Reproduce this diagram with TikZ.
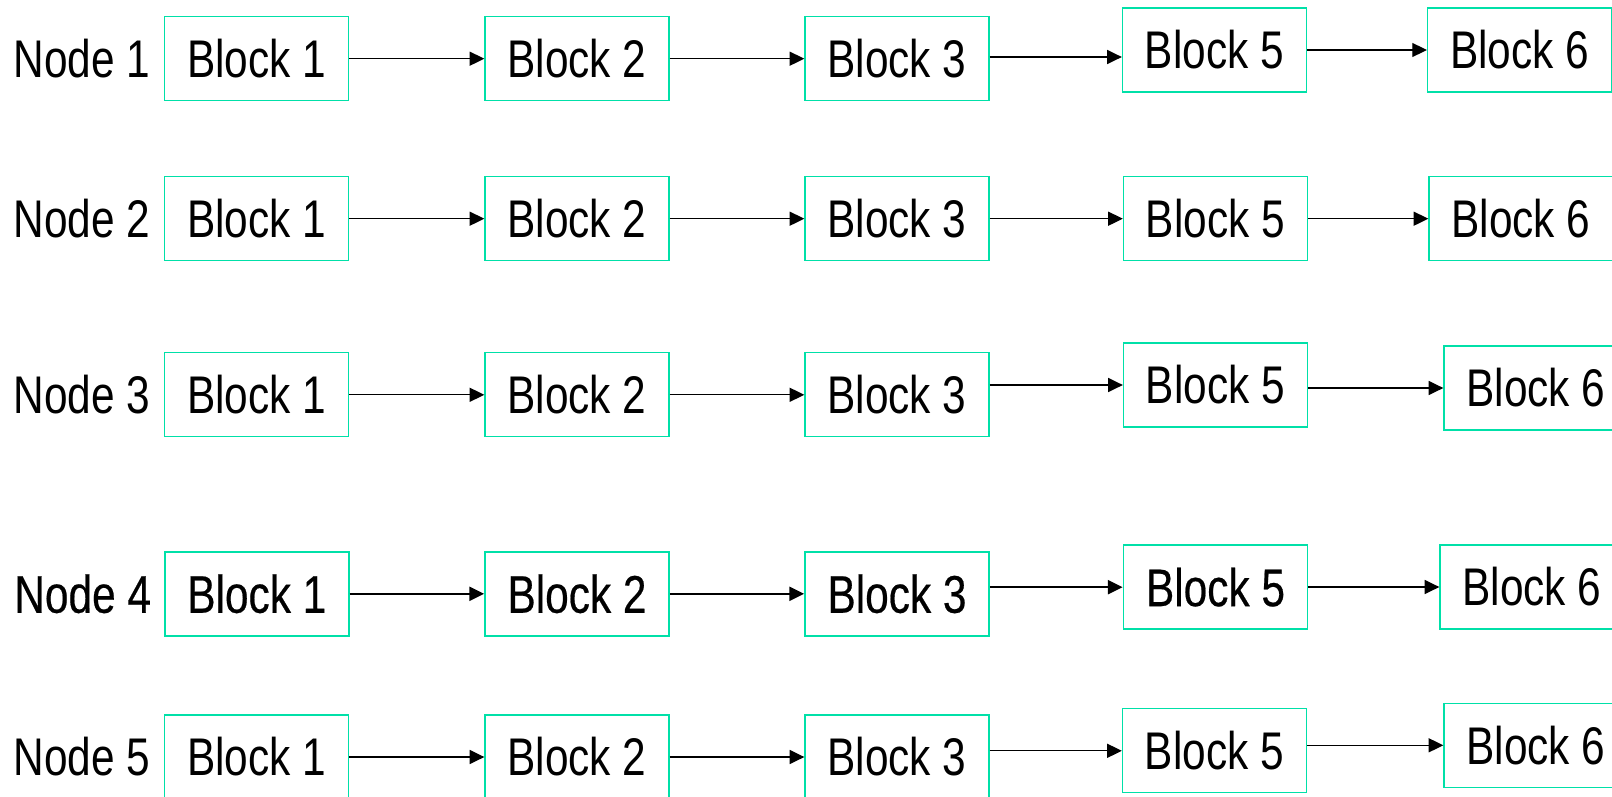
\documentclass[tikz,border=0pt]{standalone}
\usepackage{fontspec}
\setmainfont[FakeStretch=0.8]{Liberation Sans}
\newfontfamily\heavyfont[FakeStretch=0.8,FakeBold=0.4]{Liberation Sans}
\usetikzlibrary{arrows.meta}
\definecolor{blockgreen}{HTML}{00E0A8}

\tikzset{
  blk/.style={draw=blockgreen, line width=1pt, minimum width=138pt, minimum height=63pt,
    inner sep=0pt, font=\fontsize{39.75}{40}\selectfont},
  lbl/.style={inner sep=0pt, anchor=west, font=\fontsize{39.75}{40}\selectfont},
  arr/.style={-{Triangle[length=11pt,width=10.5pt]}, line width=1pt},
  plain/.style={},
  heavy/.style={line width=1.4pt, font=\heavyfont\fontsize{39.75}{40}\selectfont},
}

\begin{document}
\begin{tikzpicture}[x=0.75pt, y=-0.75pt]
  \useasboundingbox (0,0) rectangle (1612,796);
  % one row per node: y of blocks 1-3, block 5 (x,y), block 6 (x,y)
  \foreach \r/\ya/\xf/\yb/\xs/\yc/\dy/\st in {
    1/58.7/1214.5/50/1519.6/50/-5.25/plain,
    2/218.7/1215.5/218.7/1521/218.7/0/plain,
    3/394.8/1215.5/385/1536/388/0/plain,
    4/593.8/1215.5/587.2/1532/587/0/heavy,
    5/757/1214.5/750.8/1536/745.3/0/plain}{
    \node[lbl, \st] (n\r) at (13.4,\ya) {Node \r};
    \node[blk, \st] (b\r-1) at (256.8,\ya) {Block 1};
    \node[blk, \st] (b\r-2) at (577,\ya) {Block 2};
    \node[blk, \st] (b\r-3) at (897,\ya) {Block 3};
    \node[blk, \st] (b\r-5) at (\xf,\yb) {Block 5};
    \node[blk] (b\r-6) at (\xs,\yc) {Block 6};
    \draw[arr, \st] (b\r-1) -- (b\r-2);
    \draw[arr, \st] (b\r-2) -- (b\r-3);
    \draw[arr, \st] ([yshift=\dy pt]b\r-5.west -| b\r-3.east) -- ([yshift=\dy pt]b\r-5.west);
    \draw[arr] (b\r-6.west -| b\r-5.east) -- (b\r-6.west);
  }
\end{tikzpicture}
\end{document}
